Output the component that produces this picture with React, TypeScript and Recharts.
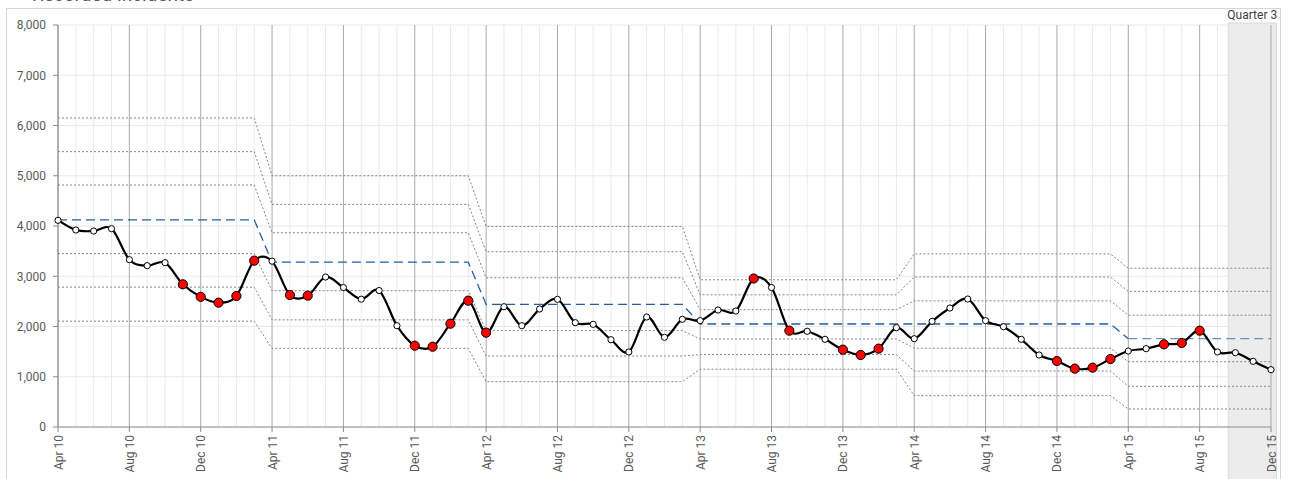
import React from 'react';
import {
  ComposedChart,
  Line,
  XAxis,
  YAxis,
  CartesianGrid,
  ReferenceLine,
  ReferenceArea,
} from 'recharts';

const MONTH_NAMES = ['Jan', 'Feb', 'Mar', 'Apr', 'May', 'Jun', 'Jul', 'Aug', 'Sep', 'Oct', 'Nov', 'Dec'];

// monthly counts, Apr 10 .. Dec 15
const INCIDENTS = [
  4113, 3920, 3900, 3947, 3330, 3210, 3270, 2840, 2590, 2474, 2607, 3310,
  3300, 2627, 2614, 2985, 2776, 2544, 2716, 2016, 1618, 1598, 2056, 2514,
  1877, 2394, 2016, 2348, 2541, 2076, 2043, 1737, 1493, 2189, 1785, 2143,
  2116, 2328, 2308, 2955, 2776, 1917, 1905, 1745, 1539, 1433, 1559, 1977,
  1757, 2103, 2368, 2547, 2116, 1996, 1745, 1433, 1313, 1161, 1181, 1353,
  1512, 1559, 1645, 1672, 1917, 1493, 1479, 1307, 1141,
];

// points flagged by the run rules (drawn red)
const FLAGGED = [7, 8, 9, 10, 11, 13, 14, 20, 21, 22, 23, 24, 39, 41, 44, 45, 46, 56, 57, 58, 59, 62, 63, 64];

// control limit segments (one per year, starting April)
const SEG_START = [0, 12, 24, 36, 48, 60];
const UCL3 = [6150, 5000, 3990, 2930, 3445, 3160];
const UCL2 = [5480, 4430, 3490, 2630, 2985, 2700];
const UCL1 = [4815, 3865, 2970, 2335, 2510, 2225];
const MEAN = [4122, 3280, 2440, 2050, 2050, 1758];
const LCL1 = [3450, 2712, 1918, 1752, 1568, 1300];
const LCL2 = [2783, 2132, 1412, 1440, 1114, 810];
const LCL3 = [2106, 1565, 902, 1150, 625, 358];

const X_TICKS = [0, 4, 8, 12, 16, 20, 24, 28, 32, 36, 40, 44, 48, 52, 56, 60, 64, 68];
const Y_TICKS = [0, 1000, 2000, 3000, 4000, 5000, 6000, 7000, 8000];

const monthLabel = (i: number) => {
  const m = 3 + i;
  return `${MONTH_NAMES[m % 12]} ${10 + Math.floor(m / 12)}`;
};

const segOf = (i: number) => SEG_START.filter((s) => s <= i).length - 1;

const data = INCIDENTS.map((v, i) => {
  const s = segOf(i);
  return {
    idx: i,
    value: v,
    u3: UCL3[s],
    u2: UCL2[s],
    u1: UCL1[s],
    mA: i <= 60 ? MEAN[s] : null,
    mB: i >= 60 ? MEAN[s] : null,
    l1: LCL1[s],
    l2: LCL2[s],
    l3: LCL3[s],
  };
});

// Excel-like smoothed line (Catmull-Rom through the points)
const smoothCurve = (context: any) => {
  let pts: [number, number][] = [];
  return {
    areaStart() {},
    areaEnd() {},
    lineStart() {
      pts = [];
    },
    point(x: number, y: number) {
      pts.push([+x, +y]);
    },
    lineEnd() {
      if (!pts.length) return;
      context.moveTo(pts[0][0], pts[0][1]);
      const t = 1 / 6;
      for (let i = 0; i < pts.length - 1; i++) {
        const p0 = pts[i - 1] || pts[i];
        const p1 = pts[i];
        const p2 = pts[i + 1];
        const p3 = pts[i + 2] || p2;
        context.bezierCurveTo(
          p1[0] + (p2[0] - p0[0]) * t,
          p1[1] + (p2[1] - p0[1]) * t,
          p2[0] - (p3[0] - p1[0]) * t,
          p2[1] - (p3[1] - p1[1]) * t,
          p2[0],
          p2[1]
        );
      }
    },
  };
};

const renderDot = (props: any) => {
  const { cx, cy, index } = props;
  const red = FLAGGED.includes(index);
  return (
    <circle
      key={`dot-${index}`}
      cx={cx}
      cy={cy}
      r={red ? 4.6 : 3.1}
      fill={red ? '#ff0000' : '#ffffff'}
      stroke="#000"
      strokeWidth={1}
    />
  );
};

const tickStyle = { fontFamily: 'Roboto, Arial, sans-serif', fontSize: 12, fill: '#595959' };

const limitKeys = ['u3', 'u2', 'u1', 'l1', 'l2', 'l3'];

export default function App() {
  return (
    <div style={{ position: 'absolute', left: 0, top: 0, width: 1292, height: 479, overflow: 'hidden', background: '#fff' }}>
      <div
        style={{
          position: 'absolute',
          left: 32,
          top: -16,
          lineHeight: '22px',
          fontFamily: 'Roboto, Arial, sans-serif',
          fontSize: 19,
          color: '#595959',
          whiteSpace: 'nowrap',
        }}
      >
        Recorded incidents
      </div>
      <div
        style={{
          position: 'absolute',
          left: 6,
          top: 8,
          width: 1273,
          height: 480,
          border: '1px solid #d6d6d6',
        }}
      />
      <div style={{ position: 'absolute', left: 0, top: 0 }}>
        <ComposedChart
          width={1292}
          height={479}
          data={data}
          margin={{ top: 25, right: 21, bottom: 7, left: 8 }}
        >
          <ReferenceArea
            x1={65.6}
            x2={68.3}
            y1={-1200}
            y2={8040}
            ifOverflow="visible"
            fill="#ececec"
            fillOpacity={1}
            stroke="#d9d9d9"
            label={{
              value: 'Quarter 3',
              position: 'top',
              offset: 4,
              fontFamily: 'Roboto, Arial, sans-serif',
              fontSize: 12,
              fill: '#404040',
              stroke: 'none',
            }}
          />
          <CartesianGrid vertical={false} stroke="#e8eaf0" />
          {data.map((d) => (
            <ReferenceLine
              key={`v-${d.idx}`}
              x={d.idx}
              stroke={d.idx % 4 === 0 ? '#a9a9a9' : '#e8eaf0'}
              strokeWidth={1}
            />
          ))}
          <XAxis
            dataKey="idx"
            type="number"
            domain={[0, 68]}
            ticks={X_TICKS}
            tickFormatter={monthLabel}
            interval={0}
            angle={-90}
            textAnchor="end"
            height={45}
            tick={{ ...tickStyle, dx: -4 }}
            tickSize={5}
            tickMargin={3}
            stroke="#8c8c8c"
          />
          <YAxis
            type="number"
            domain={[0, 8000]}
            ticks={Y_TICKS}
            width={50}
            tick={tickStyle}
            tickFormatter={(v: number) => v.toLocaleString('en-US')}
            tickSize={5}
            tickMargin={7}
            stroke="#8c8c8c"
          />
          {limitKeys.map((k) => (
            <Line
              key={k}
              dataKey={k}
              type="linear"
              stroke="#858585"
              strokeWidth={1}
              strokeDasharray="2 2"
              dot={false}
              activeDot={false}
              isAnimationActive={false}
            />
          ))}
          <Line
            dataKey="mA"
            type="linear"
            stroke="#1f5fa3"
            strokeWidth={1.3}
            strokeDasharray="9 5"
            dot={false}
            activeDot={false}
            connectNulls={false}
            isAnimationActive={false}
          />
          <Line
            dataKey="mB"
            type="linear"
            stroke="#6b90b8"
            strokeWidth={1.3}
            strokeDasharray="9 5"
            dot={false}
            activeDot={false}
            connectNulls={false}
            isAnimationActive={false}
          />
          <Line
            dataKey="value"
            type={smoothCurve as any}
            stroke="#000"
            strokeWidth={2.2}
            dot={renderDot}
            activeDot={false}
            isAnimationActive={false}
          />
        </ComposedChart>
      </div>
    </div>
  );
}
